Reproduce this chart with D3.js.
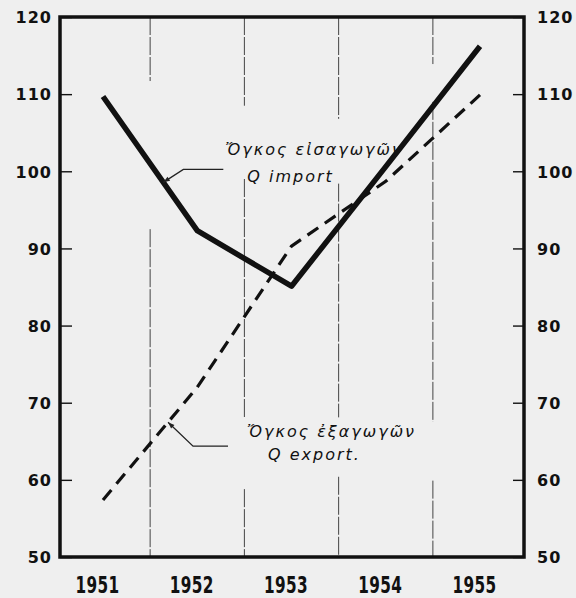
<!DOCTYPE html>
<head>
    <meta charset="utf-8">
    <script src="https://cdn.jsdelivr.net/npm/d3@7"></script>
    <style type="text/css">
        body {
            margin: 0;
            background: #efefef;
        }
        #svg {
            display: block;
        }
        .ylab text {
            font: bold 16px "DejaVu Sans", sans-serif;
            letter-spacing: 1px;
            fill: #111;
        }
        .xlab text {
            font: 600 18px "DejaVu Sans", sans-serif;
            letter-spacing: 0.5px;
            fill: #111;
        }
        .note {
            font: italic 16px "DejaVu Sans", sans-serif;
            letter-spacing: 2px;
            fill: #111;
        }
    </style>
</head>
<body>
    <div id="chart"></div>
</body>
</html>

<script type="text/javascript">
    // data
    var years = [1951, 1952, 1953, 1954, 1955];
    var importQ = [109.7, 92.3, 85.1, 100.6, 116.2];
    var exportQ = [57.4, 72.0, 90.3, 98.7, 109.9];
    var yTicks = [50, 60, 70, 80, 90, 100, 110, 120];

    var width = 576, height = 598;
    // plot frame (note: "top" would clash with window.top)
    var frameL = 60, frameR = 524, frameT = 17, frameB = 557;

    var svg = d3.select("#chart").append("svg")
        .attr("id", "svg")
        .attr("width", width)
        .attr("height", height);

    var x = d3.scalePoint()
        .domain(years)
        .range([103, 480]);

    var y = d3.scaleLinear()
        .domain([50, 120])
        .range([frameB, frameT]);

    // vertical separators between years, broken where the hand lettering sits
    // gaps given in value units [from, to]
    var gridGaps = [
        [[111.7, 92.5]],
        [[108.5, 99.0], [67.9, 58.8]],
        [[106.8, 98.4], [68.1, 60.4]],
        [[113.9, 109.0], [67.5, 59.9]]
    ];
    var grid = svg.append("g")
        .attr("stroke", "#444")
        .attr("stroke-width", 1)
        .attr("stroke-dasharray", "18,2");
    d3.range(years.length - 1).forEach(function(i) {
        var gx = (x(years[i]) + x(years[i + 1])) / 2;
        var cuts = [120].concat(d3.merge(gridGaps[i])).concat([50]);
        for (var k = 0; k < cuts.length; k += 2) {
            grid.append("line")
                .attr("x1", gx).attr("x2", gx)
                .attr("y1", y(cuts[k])).attr("y2", y(cuts[k + 1]));
        }
    });

    // axes
    var yl = svg.append("g")
        .attr("class", "ylab")
        .attr("transform", "translate(" + frameL + ",0)")
        .call(d3.axisLeft(y).tickValues(yTicks).tickSize(-12).tickPadding(8));
    var yr = svg.append("g")
        .attr("class", "ylab")
        .attr("transform", "translate(" + frameR + ",0)")
        .call(d3.axisRight(y).tickValues(yTicks).tickSize(-11).tickPadding(13));
    [yl, yr].forEach(function(g) {
        g.attr("font-family", null).attr("font-size", null);
        g.select(".domain").remove();
        g.selectAll(".tick line").attr("stroke", "#111").attr("stroke-width", 1.4);
        g.selectAll(".tick text").attr("dy", "0.36em");
    });

    var xl = svg.append("g")
        .attr("class", "xlab")
        .attr("transform", "translate(0," + frameB + ")")
        .call(d3.axisBottom(x).tickSize(0).tickFormat(d3.format("d")));
    xl.attr("font-family", null).attr("font-size", null);
    xl.select(".domain").remove();
    // hand lettering is narrow and tall
    xl.selectAll(".tick text")
        .attr("y", 0).attr("dy", 0)
        .attr("transform", "translate(-6,36) scale(0.85,1.3)");

    // frame
    svg.append("rect")
        .attr("x", frameL).attr("y", frameT)
        .attr("width", frameR - frameL).attr("height", frameB - frameT)
        .attr("fill", "none")
        .attr("stroke", "#111")
        .attr("stroke-width", 3.5);

    var line = d3.line()
        .x(function(d, i) { return x(years[i]); })
        .y(function(d) { return y(d); });

    svg.append("path")
        .datum(exportQ)
        .attr("d", line)
        .attr("fill", "none")
        .attr("stroke", "#111")
        .attr("stroke-width", 3.2)
        .attr("stroke-dasharray", "13,8");

    svg.append("path")
        .datum(importQ)
        .attr("d", line)
        .attr("fill", "none")
        .attr("stroke", "#111")
        .attr("stroke-width", 5.5)
        .attr("stroke-linejoin", "round");

    // leaders and labels
    function along(series, i, t) {
        return [x(years[i]) + t * (x(years[i + 1]) - x(years[i])),
                y(series[i] + t * (series[i + 1] - series[i]))];
    }

    function note(tip, elbow, run, lines) {
        var g = svg.append("g");
        g.append("path")
            .attr("d", "M" + tip + "L" + [tip[0] + elbow[0], tip[1] + elbow[1]] +
                "h" + run)
            .attr("fill", "none")
            .attr("stroke", "#222")
            .attr("stroke-width", 1.3);
        var ang = Math.atan2(elbow[1], elbow[0]);
        var a1 = ang + 0.35, a2 = ang - 0.35;
        g.append("path")
            .attr("d", "M" + tip + "L" + [tip[0] + 7 * Math.cos(a1), tip[1] + 7 * Math.sin(a1)] +
                "L" + [tip[0] + 7 * Math.cos(a2), tip[1] + 7 * Math.sin(a2)] + "Z")
            .attr("fill", "#222");
        lines.forEach(function(l) {
            g.append("text")
                .attr("class", "note")
                .attr("x", tip[0] + l.dx)
                .attr("y", tip[1] + l.dy)
                .text(l.text);
        });
    }

    note(along(importQ, 0, 0.64), [20, -13], 40, [
        {text: "Ὄγκος εἰσαγωγῶν", dx: 62, dy: -27},
        {text: "Q  import", dx: 84, dy: 0}
    ]);

    note(along(exportQ, 0, 0.69), [25, 24], 35, [
        {text: "Ὄγκος ἐξαγωγῶν", dx: 79, dy: 15},
        {text: "Q  export.", dx: 100, dy: 38}
    ]);
</script>
